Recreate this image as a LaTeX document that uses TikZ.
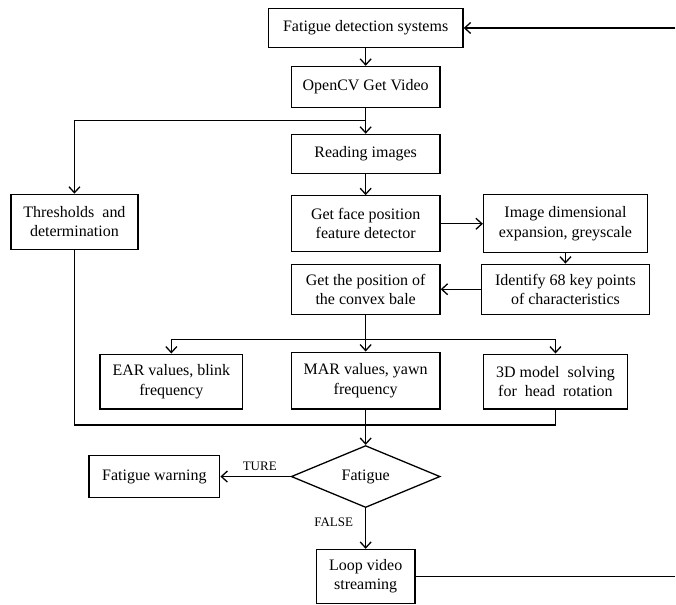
\documentclass[tikz,border=0pt]{standalone}
\usepackage{fontspec}
\setmainfont{Liberation Serif}
\usetikzlibrary{shapes.geometric,arrows.meta}

\begin{document}
\begin{tikzpicture}[x=1pt,y=-1pt,line width=1.3pt,
  box/.style={draw,align=center,inner sep=0pt,font=\fontsize{16}{19.3}\selectfont},
  decide/.style={draw,diamond,inner sep=0pt,font=\fontsize{16}{19.3}\selectfont},
  arr/.style={-{Straight Barb[length=6pt,width=11pt]}},
  tag/.style={font=\fontsize{13}{15}\selectfont}]
\path (0,0) rectangle (676,605); % Keep the margins
\node[box,minimum width=195pt,minimum height=39pt] (sys) at (366,28) {Fatigue detection systems};
\node[box,minimum width=149pt,minimum height=41pt] (video) at (366,87) {OpenCV Get Video};
\node[box,minimum width=149pt,minimum height=39pt] (read) at (366,154) {Reading images};
\node[box,minimum width=149pt,minimum height=56pt] (face) at (366,224) {Get face position\\feature detector};
\node[box,minimum width=164pt,minimum height=58pt] (expand) at (566,224) {Image dimensional\\expansion, greyscale};
\node[box,minimum width=127pt,minimum height=55pt] (thresh) at (74.5,222) {Thresholds\ \ and\\determination};
\node[box,minimum width=168pt,minimum height=50pt] (keypts) at (566,289.5) {Identify 68 key points\\of characteristics};
\node[box,minimum width=149pt,minimum height=50pt] (hull) at (366,289.5) {Get the position of\\the convex bale};
\node[box,minimum width=143pt,minimum height=55pt] (ear) at (171.5,382) {EAR values, blink\\frequency};
\node[box,minimum width=149pt,minimum height=57pt] (mar) at (366,381) {MAR values, yawn\\frequency};
\node[box,minimum width=144pt,minimum height=55pt] (head) at (556,382) {3D model\ \ solving\\for\ \ head\ \ rotation};
\node[decide,minimum width=149pt,minimum height=61pt] (tired) at (366,477) {Fatigue};
\node[box,minimum width=131pt,minimum height=42pt] (warn) at (154.5,477) {Fatigue warning};
\node[box,minimum width=99pt,minimum height=54pt] (loop) at (366,577) {Loop video\\streaming};
\coordinate (topin) at (676,28);
\coordinate (loopout) at (676,577);
\coordinate (fork) at (366,120.5);
\coordinate (split) at (366,339.5);
\coordinate (join) at (366,425.5);
\foreach \a/\b in {sys/video, fork/read, read/face, face/expand, expand/keypts, keypts/hull, tired/warn, tired/loop}
  \draw[arr] (\a) -- (\b);
\draw[arr] (topin) -- (sys);
\draw (video) -- (fork);
\draw[arr] (fork) -| (thresh);
\draw (hull) -- (split);
\foreach \n in {ear, mar, head}
  \draw[arr] (split) -| (\n);
\draw (thresh) |- (join) -| (head);
\draw (mar) -- (join);
\draw[arr] (join) -- (tired);
\draw (loop) -- (loopout);
\node[tag] (yes) at (260,467) {TURE};
\node[tag] (no) at (334,523) {FALSE};
\end{tikzpicture}
\end{document}
